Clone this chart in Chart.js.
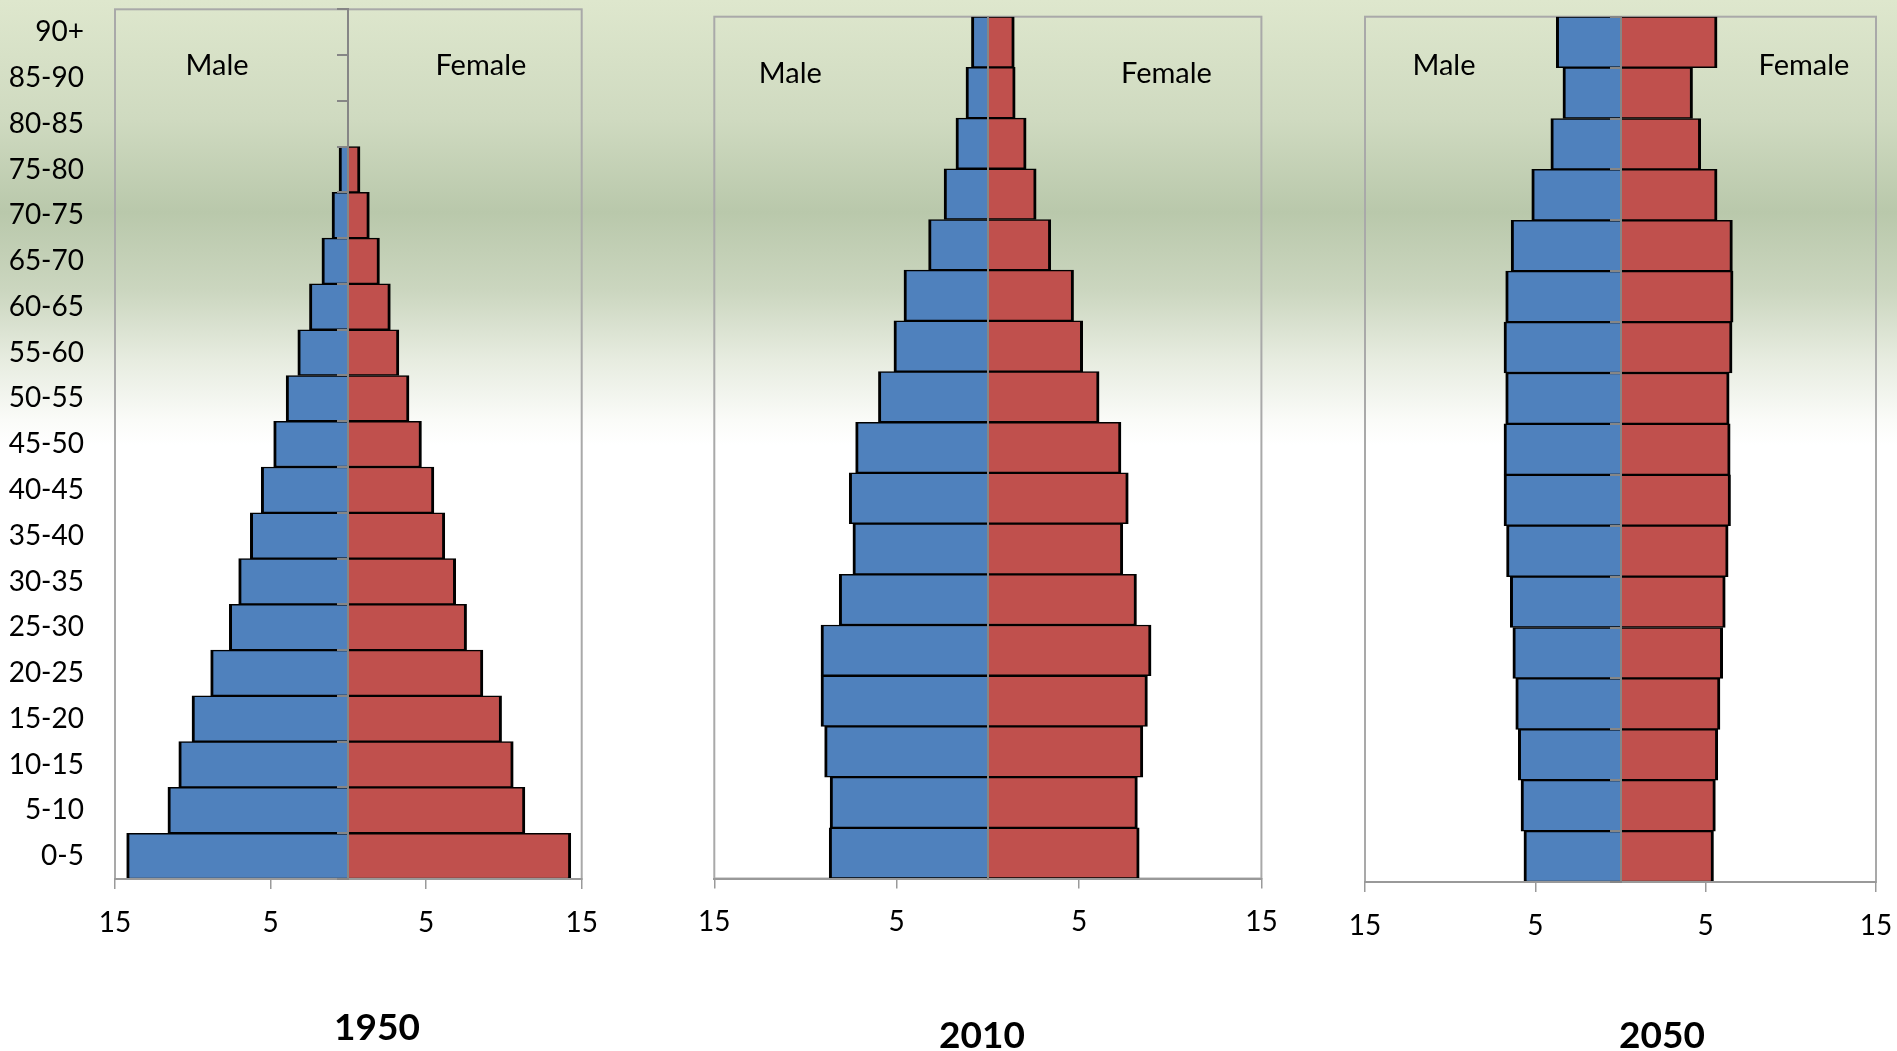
<!DOCTYPE html>
<html>
<head>
<meta charset="utf-8">
<title>Population pyramids 1950, 2010, 2050</title>
<script src="https://cdn.jsdelivr.net/npm/chart.js@4/dist/chart.umd.min.js"></script>
<style>
  html, body { margin: 0; padding: 0; overflow: hidden; background: #fff; }
  #stage {
    position: relative; width: 1897px; height: 1051px; overflow: hidden;
    background: linear-gradient(to bottom,
      #dee7cd 0px, #cfdac0 120px, #b9c8ab 212px, #cbd6bf 290px,
      #e7ece0 360px, #fafbf8 420px, #ffffff 445px);
  }
  canvas { position: absolute; top: 0; }
</style>
</head>
<body>
<div id="stage">
  <canvas id="c1950" width="754" height="1051" style="left:0px"></canvas>
  <canvas id="c2010" width="600" height="1051" style="left:682px"></canvas>
  <canvas id="c2050" width="640" height="1051" style="left:1342px"></canvas>
</div>
<script>
// Age groups, youngest first (drawn bottom to top)
const ageGroups1950 = ['0-5', '5-10', '10-15', '15-20', '20-25', '25-30', '30-35', '35-40', '40-45',
  '45-50', '50-55', '55-60', '60-65', '65-70', '70-75', '75-80', '80-85', '85-90', '90+'];
const ageGroupsLater = ['0-5', '5-10', '10-15', '15-20', '20-25', '25-30', '30-35', '35-40', '40-45',
  '45-50', '50-55', '55-60', '60-65', '65-70', '70-75', '75-80', '80+'];

// Share of population (%) per age group
const male1950   = [14.25, 11.6, 10.9, 10.05, 8.85, 7.65, 7.05, 6.3, 5.6, 4.8, 4.0, 3.25, 2.5, 1.7, 1.05, 0.6, null, null, null];
const female1950 = [14.3, 11.35, 10.6, 9.85, 8.65, 7.6, 6.9, 6.2, 5.5, 4.7, 3.9, 3.25, 2.7, 2.0, 1.35, 0.75, null, null, null];

const male2010   = [8.7, 8.65, 8.95, 9.15, 9.15, 8.15, 7.4, 7.6, 7.25, 6.0, 5.15, 4.6, 3.25, 2.4, 1.75, 1.2, 0.9];
const female2010 = [8.3, 8.2, 8.5, 8.75, 8.95, 8.15, 7.4, 7.7, 7.3, 6.1, 5.2, 4.7, 3.45, 2.65, 2.1, 1.5, 1.45];

const male2050   = [5.67, 5.84, 6.0, 6.15, 6.32, 6.47, 6.69, 6.84, 6.84, 6.74, 6.84, 6.74, 6.42, 5.21, 4.09, 3.38, 3.77];
const female2050 = [5.46, 5.57, 5.71, 5.84, 6.0, 6.15, 6.32, 6.46, 6.44, 6.38, 6.55, 6.61, 6.57, 5.67, 4.71, 4.23, 5.67];

const sexLabels = ['Male', 'Female'];
const axisMin = -15, axisMax = 15, axisStep = 10;

const FONT = 'Lato, "Open Sans", sans-serif';
const MALE_COLOR = '#4F81BD';
const FEMALE_COLOR = '#C0504D';

Chart.defaults.color = '#000';
Chart.defaults.font.family = FONT;

// Light grey box around the plot area
const plotFrame = {
  id: 'plotFrame',
  beforeDatasetsDraw(chart) {
    const {ctx, chartArea: a} = chart;
    ctx.save();
    ctx.strokeStyle = '#a9a9a9';
    ctx.lineWidth = 2;
    ctx.strokeRect(a.left, a.top, a.right - a.left, a.bottom - a.top);
    ctx.restore();
  }
};

// "Male" / "Female" captions inside the plot area
const sideCaptions = {
  id: 'sideCaptions',
  afterDraw(chart, args, opts) {
    const {ctx, chartArea: a} = chart;
    const w = a.right - a.left;
    ctx.save();
    ctx.font = '29px ' + FONT;
    ctx.fillStyle = '#000';
    ctx.textAlign = 'center';
    ctx.textBaseline = 'middle';
    ctx.fillText(sexLabels[0], a.left + opts.maleAt * w, a.top + opts.dy);
    ctx.fillText(sexLabels[1], a.left + opts.femaleAt * w, a.top + opts.dy);
    ctx.restore();
  }
};

function pyramid(canvasId, cfg) {
  const negate = arr => arr.map(v => (v == null ? null : -v));
  return new Chart(document.getElementById(canvasId), {
    type: 'bar',
    data: {
      labels: cfg.labels,
      datasets: [
        { label: sexLabels[0], data: negate(cfg.male), backgroundColor: MALE_COLOR },
        { label: sexLabels[1], data: cfg.female, backgroundColor: FEMALE_COLOR }
      ]
    },
    plugins: [plotFrame, sideCaptions],
    options: {
      indexAxis: 'y',
      responsive: false,
      devicePixelRatio: 1,
      animation: false,
      events: [],
      layout: { padding: { top: cfg.top, left: 0, right: 0, bottom: 0 } },
      datasets: {
        bar: {
          barPercentage: 1,
          categoryPercentage: 1,
          borderColor: '#000',
          borderWidth: { top: 1.5, bottom: 1.5, left: 3, right: 3 },
          borderSkipped: 'start'
        }
      },
      scales: {
        x: {
          type: 'linear',
          min: axisMin, max: axisMax,
          stacked: true,
          ticks: {
            stepSize: axisStep,
            autoSkip: false,
            maxRotation: 0,
            padding: 0,
            color: '#000',
            font: { size: 28, lineHeight: 2.4 },
            callback: v => Math.abs(v)
          },
          grid: { display: true, drawOnChartArea: false, drawTicks: true, tickLength: 10, color: '#9a9a9a', lineWidth: 1.5 },
          border: { display: true, color: '#999999', width: 2, z: 1 },
          afterFit: s => { s.height = cfg.xAxisHeight; }
        },
        y: {
          type: 'category',
          position: 'left',
          reverse: true,
          offset: true,
          stacked: true,
          ticks: {
            display: cfg.showAges,
            padding: 0,
            color: '#000',
            autoSkip: false,
            font: { size: 28, lineHeight: 0.6 }
          },
          grid: { display: false, drawTicks: cfg.showAges, tickLength: 31 },
          border: { display: false },
          afterFit: s => { s.width = cfg.leftWidth; }
        },
        yc: {
          type: 'category',
          axis: 'y',
          position: { x: 0 },
          reverse: true,
          offset: true,
          ticks: { display: false },
          grid: {
            display: true, offset: true, drawOnChartArea: false,
            drawTicks: cfg.centerTicks, tickLength: 10,
            color: '#868686', lineWidth: 2, z: 1
          },
          border: { display: true, color: '#868686', width: 2, z: 1 }
        },
        yr: {
          type: 'category',
          position: 'right',
          ticks: { display: false },
          grid: { display: false, drawTicks: false },
          border: { display: false },
          afterFit: s => { s.width = cfg.rightWidth; }
        }
      },
      plugins: {
        legend: { display: false },
        tooltip: { enabled: false },
        title: {
          display: true,
          position: 'bottom',
          text: cfg.year,
          color: '#000',
          font: { size: 37, weight: 'bold', lineHeight: 0.8 },
          padding: { top: 0, bottom: cfg.titleBottom }
        },
        sideCaptions: { maleAt: cfg.maleAt, femaleAt: cfg.femaleAt, dy: cfg.captionDy }
      }
    }
  });
}

pyramid('c1950', {
  year: '1950', labels: ageGroups1950, male: male1950, female: female1950,
  showAges: true, centerTicks: true,
  top: 9.3, leftWidth: 115, rightWidth: 172.3, xAxisHeight: 134.2, titleBottom: 8.2,
  maleAt: 0.2186, femaleAt: 0.784, captionDy: 56
});

pyramid('c2010', {
  year: '2010', labels: ageGroupsLater, male: male2010, female: female2010,
  showAges: false, centerTicks: false,
  top: 16.7, leftWidth: 32.3, rightWidth: 20.6, xAxisHeight: 142.7, titleBottom: 0.2,
  maleAt: 0.139, femaleAt: 0.8265, captionDy: 56.5
});

pyramid('c2050', {
  year: '2050', labels: ageGroupsLater, male: male2050, female: female2050,
  showAges: false, centerTicks: true,
  top: 16.7, leftWidth: 23, rightWidth: 106, xAxisHeight: 139.2, titleBottom: 0.2,
  maleAt: 0.1546, femaleAt: 0.859, captionDy: 48.5
});
</script>
</body>
</html>
